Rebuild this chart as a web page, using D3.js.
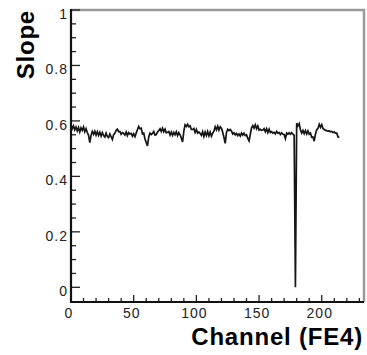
<!DOCTYPE html>
<html><head><meta charset="utf-8">
<script src="https://cdn.jsdelivr.net/npm/d3@7"></script>
<style>body{margin:0;background:#fff}svg{display:block}</style>
</head><body>
<script>
const slopes = [
0.586,0.572,0.582,0.568,0.578,0.564,0.576,0.560,0.575,0.566,
0.578,0.561,0.572,0.558,0.548,0.522,0.548,0.562,0.552,0.563,
0.549,0.561,0.548,0.559,0.545,0.558,0.547,0.542,0.556,0.544,
0.540,0.553,0.543,0.533,0.550,0.555,0.566,0.570,0.561,0.562,
0.552,0.558,0.555,0.549,0.560,0.547,0.558,0.553,0.555,0.545,
0.554,0.543,0.556,0.568,0.580,0.572,0.574,0.553,0.556,0.535,
0.522,0.510,0.542,0.556,0.551,0.555,0.562,0.549,0.551,0.560,
0.565,0.572,0.562,0.574,0.561,0.570,0.557,0.559,0.562,0.549,
0.560,0.548,0.559,0.550,0.561,0.547,0.558,0.550,0.538,0.524,
0.563,0.586,0.580,0.588,0.579,0.582,0.569,0.569,0.573,0.558,
0.569,0.556,0.560,0.555,0.548,0.561,0.544,0.560,0.547,0.562,
0.546,0.560,0.545,0.556,0.563,0.579,0.568,0.581,0.567,0.579,
0.574,0.559,0.540,0.519,0.558,0.570,0.565,0.569,0.564,0.553,
0.557,0.550,0.555,0.547,0.553,0.545,0.556,0.549,0.556,0.547,
0.550,0.537,0.528,0.551,0.575,0.583,0.574,0.586,0.572,0.582,
0.567,0.570,0.566,0.567,0.572,0.561,0.572,0.558,0.570,0.558,
0.561,0.556,0.559,0.553,0.562,0.556,0.558,0.551,0.557,0.552,
0.551,0.536,0.556,0.552,0.557,0.552,0.558,0.552,0.548,0.000,
0.592,0.582,0.590,0.568,0.556,0.566,0.554,0.565,0.553,0.564,
0.552,0.556,0.541,0.542,0.527,0.553,0.568,0.573,0.588,0.577,
0.587,0.573,0.569,0.566,0.565,0.563,0.564,0.561,0.562,0.558,
0.560,0.556,0.556,0.542,0.540
];
const channels = slopes.map((_, i) => i);
const xMajorTicks = [0, 50, 100, 150, 200];
const yMajorTicks = [0, 0.2, 0.4, 0.6, 0.8, 1];
const yTickLabels = ["0", "0.2", "0.4", "0.6", "0.8", "1"];
const xTitle = "Channel (FE4)";
const yTitle = "Slope";

const W = 367, H = 355;
const L = 71, R = 364, T = 10, B = 302;
const x = d3.scaleLinear().domain([0, 233.7]).range([L, R]);
const y = d3.scaleLinear().domain([-0.053, 1]).range([B, T]);

const svg = d3.select("body").append("svg").attr("width", W).attr("height", H);
const font = "'Liberation Sans', Arial, Helvetica, sans-serif";

// frame top/right in grey
svg.append("path").attr("d", `M${L},${T}H${R}V${B}`)
  .attr("fill", "none").attr("stroke", "#9a9a9a").attr("stroke-width", 2.5);

// data line
const line = d3.line().x((d, i) => x(channels[i])).y(d => y(d));
svg.append("path").datum(slopes).attr("d", line)
  .attr("fill", "none").attr("stroke", "#151515").attr("stroke-width", 1.7)
  .attr("stroke-linejoin", "miter");

// ticks
const g = svg.append("g").attr("stroke", "#222");
const yMinor = d3.range(0, 1.0001, 0.05);
yMinor.forEach(v => {
  const major = Math.abs(v / 0.2 - Math.round(v / 0.2)) < 1e-6;
  g.append("line").attr("x1", L).attr("x2", L + (major ? 9 : 5))
    .attr("y1", y(v)).attr("y2", y(v)).attr("stroke-width", 1.3);
});
const xMinor = d3.range(0, 231, 10);
xMinor.forEach(v => {
  const major = v % 50 === 0;
  g.append("line").attr("x1", x(v)).attr("x2", x(v))
    .attr("y1", B).attr("y2", B - (major ? 7 : 4)).attr("stroke-width", 1.3);
});

// axes lines
svg.append("line").attr("x1", L).attr("x2", L).attr("y1", T - 1).attr("y2", B + 1)
  .attr("stroke", "#111").attr("stroke-width", 2.2);
svg.append("line").attr("x1", L - 1).attr("x2", R).attr("y1", B).attr("y2", B)
  .attr("stroke", "#111").attr("stroke-width", 2.2);

// tick labels
svg.append("g").selectAll("text").data(yMajorTicks).join("text")
  .attr("x", L - 3).attr("y", d => y(d) + 4 + 5)
  .attr("text-anchor", "end").attr("font-family", font).attr("font-size", 14)
  .attr("letter-spacing", 1).attr("fill", "#222")
  .text((d, i) => yTickLabels[i]);
svg.append("g").selectAll("text").data(xMajorTicks).join("text")
  .attr("x", d => x(d) - 2).attr("y", 318)
  .attr("text-anchor", "middle").attr("font-family", font).attr("font-size", 14)
  .attr("letter-spacing", 1).attr("fill", "#222")
  .text(d => d);

// titles
svg.append("text").attr("x", R - 1).attr("y", 345).attr("text-anchor", "end")
  .attr("font-family", font).attr("font-weight", "bold").attr("font-size", 24)
  .attr("letter-spacing", 0.8).attr("fill", "#000").text(xTitle);
svg.append("text").attr("transform", `translate(34,${T}) rotate(-90)`)
  .attr("text-anchor", "end")
  .attr("font-family", font).attr("font-weight", "bold").attr("font-size", 24)
  .attr("letter-spacing", 0.8).attr("fill", "#000").text(yTitle);
</script>
</body></html>
